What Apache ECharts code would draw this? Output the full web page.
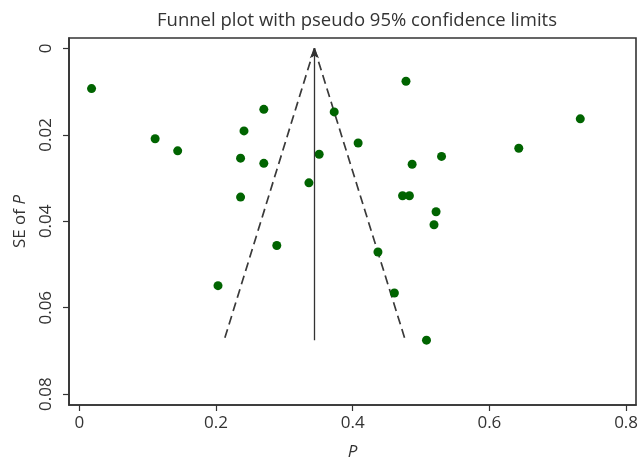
<!DOCTYPE html>
<html>
<head>
<meta charset="utf-8">
<script src="https://cdn.jsdelivr.net/npm/echarts@6/dist/echarts.min.js"></script>
<style>
  html, body { margin: 0; padding: 0; background: #fff; }
  #chart { width: 638px; height: 460px; }
</style>
</head>
<body>
<div id="chart"></div>
<script>
  // studies: [P, SE of P]
  const studies = [
    [0.018, 0.0093], [0.111, 0.0209], [0.144, 0.0237], [0.241, 0.0191],
    [0.270, 0.0141], [0.236, 0.0254], [0.270, 0.0266], [0.236, 0.0344],
    [0.289, 0.0456], [0.203, 0.0549], [0.336, 0.0311], [0.351, 0.0245],
    [0.373, 0.0147], [0.408, 0.0219], [0.478, 0.0076], [0.487, 0.0268],
    [0.473, 0.0341], [0.483, 0.0341], [0.437, 0.0471], [0.461, 0.0566],
    [0.508, 0.0675], [0.522, 0.0378], [0.519, 0.0408], [0.530, 0.0250],
    [0.643, 0.0231], [0.733, 0.0163]
  ]
  // pooled estimate and pseudo 95% limits
  const pooledLine = [[0.344, 0.0675], [0.344, 0]]
  const limitLeft = [[0.344, 0], [0.212, 0.0675]]
  const limitRight = [[0.344, 0], [0.477, 0.0675]]
  const xTicks = [0, 0.2, 0.4, 0.6, 0.8]
  const yTicks = [0, 0.02, 0.04, 0.06, 0.08]

  const font = '"Open Sans", "DejaVu Sans", sans-serif'
  const ink = '#333'

  let myChart = echarts.init(document.getElementById('chart'))
  myChart.setOption({
    animation: false,
    title: {
      text: 'Funnel plot with pseudo 95% confidence limits',
      left: 352,
      top: 6,
      textAlign: 'center',
      textStyle: { fontFamily: font, fontSize: 18.5, fontWeight: 'normal', color: ink }
    },
    grid: {
      left: 69, top: 38, right: 2, bottom: 55,
      outerBoundsMode: 'none',
      containLabel: false,
      show: true, borderColor: ink, borderWidth: 1.6, backgroundColor: '#fff'
    },
    xAxis: {
      type: 'value',
      min: -0.015,
      max: 0.8145,
      name: 'P',
      nameLocation: 'middle',
      nameGap: 39,
      nameTextStyle: { fontFamily: font, fontSize: 17, fontStyle: 'italic', color: ink },
      splitLine: { show: false },
      axisLine: { show: true, onZero: false, lineStyle: { color: ink, width: 1.6 } },
      axisTick: { show: true, length: 6, customValues: xTicks, lineStyle: { color: ink, width: 1.2 } },
      axisLabel: {
        customValues: xTicks,
        margin: 10,
        fontFamily: font, fontSize: 17, color: ink,
        formatter: v => String(v)
      }
    },
    yAxis: {
      type: 'value',
      inverse: true,
      min: -0.0024,
      max: 0.0825,
      name: '{a|SE of }{b|P}',
      nameLocation: 'middle',
      nameRotate: 90,
      nameGap: 40,
      nameTextStyle: {
        rich: {
          a: { fontFamily: font, fontSize: 17, color: ink },
          b: { fontFamily: font, fontSize: 17, fontStyle: 'italic', color: ink }
        }
      },
      splitLine: { show: false },
      axisLine: { show: true, onZero: false, lineStyle: { color: ink, width: 1.6 } },
      axisTick: { show: true, length: 6, customValues: yTicks, lineStyle: { color: ink, width: 1.2 } },
      axisLabel: {
        customValues: yTicks,
        rotate: 90,
        margin: 14,
        fontFamily: font, fontSize: 17, color: ink,
        formatter: v => String(v)
      }
    },
    series: [
      {
        type: 'line',
        data: limitLeft,
        showSymbol: false,
        symbol: 'none',
        lineStyle: { color: '#3a3a3a', width: 1.7, type: [9, 5] },
        z: 2
      },
      {
        type: 'line',
        data: limitRight,
        showSymbol: false,
        symbol: 'none',
        lineStyle: { color: '#3a3a3a', width: 1.7, type: [9, 5] },
        z: 2
      },
      {
        type: 'line',
        data: [],
        showSymbol: false,
        symbol: 'none',
        markLine: {
          silent: true,
          symbol: ['none', 'arrow'],
          symbolSize: [7, 10],
          label: { show: false },
          lineStyle: { color: ink, width: 1.3, type: 'solid' },
          data: [[{ coord: pooledLine[0] }, { coord: pooledLine[1] }]]
        },
        z: 2
      },
      {
        type: 'scatter',
        data: studies,
        symbol: 'circle',
        symbolSize: 9,
        itemStyle: { color: '#006400', opacity: 1 },
        z: 3
      }
    ]
  })
</script>
</body>
</html>
